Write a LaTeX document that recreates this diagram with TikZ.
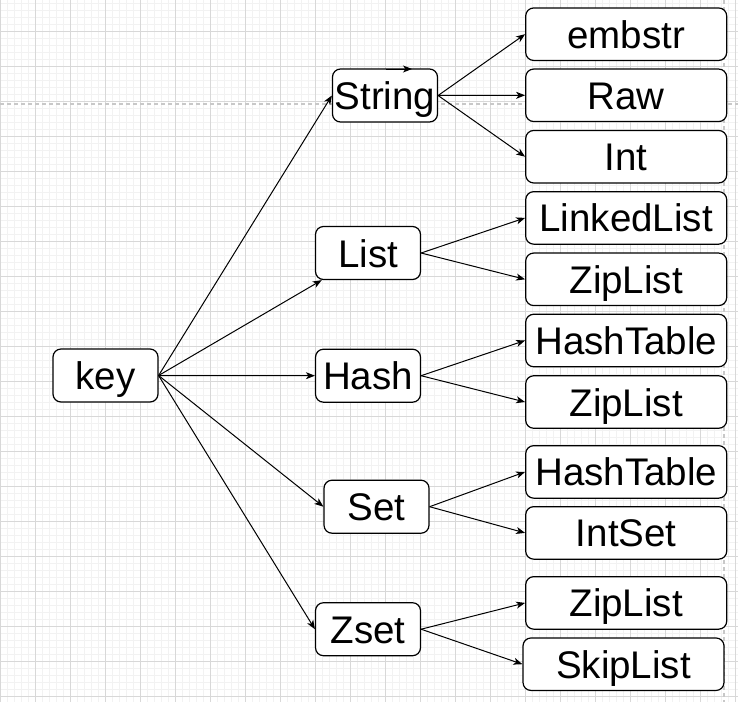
\documentclass[tikz,border=0pt]{standalone}
\usepackage{fontspec}
\setmainfont{Liberation Sans}
\usetikzlibrary{arrows.meta}
\definecolor{gridminor}{RGB}{242,242,242}
\definecolor{gridmajor}{RGB}{216,216,216}
\definecolor{pageline}{RGB}{200,200,200}

\begin{document}
\begin{tikzpicture}[x=1pt,y=-1pt,
  typebox/.style={draw=black,line width=1.2pt,rounded corners=8pt,fill=white,inner sep=0pt,
    minimum width=105pt,minimum height=53pt,font=\fontsize{38.5}{46}\selectfont,text height=28pt,text depth=0pt},
  encbox/.style={typebox,minimum width=201pt,minimum height=52.5pt},
  link/.style={-{Stealth[length=9pt,width=7pt,inset=2.5pt]},line width=1pt}]
\useasboundingbox (0,0) rectangle (738,702);
% Background grid and page lines
\fill[white] (0,0) rectangle (738,702);
\foreach \i in {0,...,105} \draw[gridminor,line width=1pt] (0.7+7*\i,0) -- (0.7+7*\i,702);
\foreach \j in {0,...,99} \draw[gridminor,line width=1pt] (0,3.7+7*\j) -- (738,3.7+7*\j);
\foreach \i in {0,...,21} \draw[gridmajor,line width=1pt] (0.7+35*\i,0) -- (0.7+35*\i,702);
\foreach \j in {0,...,19} \draw[gridmajor,line width=1pt] (0,31.7+35*\j) -- (738,31.7+35*\j);
\draw[pageline,line width=1.5pt,dash pattern=on 4pt off 3pt] (0,104) -- (738,104);
\draw[pageline,line width=1.5pt,dash pattern=on 4pt off 3pt] (724,0) -- (724,702);

% Redis key, types and encodings
\node[typebox] (key) at (105.5,375.5) {key};
\node[typebox] (string) at (385,95.5) {String};
\node[typebox] (list) at (368,253) {List};
\node[typebox] (hash) at (368,375.7) {Hash};
\node[typebox] (set) at (376.5,506.7) {Set};
\node[typebox] (zset) at (368,629.2) {Zset};

\node[encbox] (embstr) at (626.2,34.2) {embstr};
\node[encbox] (raw) at (626.2,95.3) {Raw};
\node[encbox] (int) at (626.2,156.7) {Int};
\node[encbox] (linked) at (626.2,217.9) {LinkedList};
\node[encbox] (lzip) at (626.2,279.3) {ZipList};
\node[encbox] (htable) at (626.2,340.5) {HashTable};
\node[encbox] (hzip) at (626.2,402) {ZipList};
\node[encbox] (stable) at (626.2,471.9) {HashTable};
\node[encbox] (intset) at (626.2,532.9) {IntSet};
\node[encbox] (zzip) at (626.2,602.9) {ZipList};
\node[encbox] (skip) at (623.5,664.2) {SkipList};

\coordinate (stray1) at (386,69);
\coordinate (stray2) at (412,69);

\draw[link] (key.east) -- (string.west);
\draw[link] (key.east) -- (list);
\draw[link] (key.east) -- (hash.west);
\draw[link] (key.east) -- (set.west);
\draw[link] (key.east) -- (zset.west);

\draw[link] (string.east) -- (embstr.west);
\draw[link] (string.east) -- (raw.west);
\draw[link] (string.east) -- (int.west);
\draw[link] (list.east) -- (linked.west);
\draw[link] (list.east) -- (lzip.west);
\draw[link] (hash.east) -- (htable.west);
\draw[link] (hash.east) -- (hzip.west);
\draw[link] (set.east) -- (stable.west);
\draw[link] (set.east) -- (intset.west);
\draw[link] (zset.east) -- (zzip.west);
\draw[link] (zset.east) -- (skip.west);
\draw[link] (stray1) -- (stray2);
\end{tikzpicture}
\end{document}
